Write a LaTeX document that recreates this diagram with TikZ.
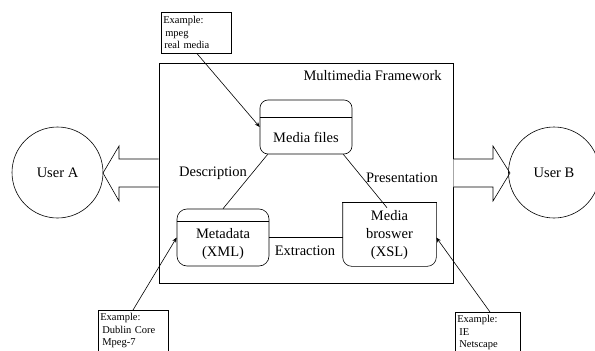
\documentclass[tikz,border=0pt]{standalone}
\usepackage{fontspec}
\setmainfont{Liberation Serif}
\usetikzlibrary{arrows.meta,calc}
\begin{document}
\begin{tikzpicture}[x=1pt,y=-1pt, line width=0.6pt,
  lbl/.style={font=\fontsize{14.5}{18}\selectfont, inner sep=0pt},
  exbox/.style={draw, anchor=north west, font=\fontsize{10.5}{12.5}\selectfont, align=left, text width=#1, inner xsep=2pt, inner ysep=0pt, minimum height=41pt},
  ptr/.style={-{Stealth[length=5pt,width=4pt]}},
  bigarrow/.style={draw, fill=white, line width=0.6pt}
  ]
\useasboundingbox (0,0) rectangle (595,351);
\clip (0,0) rectangle (595,351);

% framework
\node[draw, minimum width=294pt, minimum height=220pt, inner sep=0pt, line width=0.9pt] (fw) at (306,173) {};
\node[lbl, anchor=east] (fwl) at (442,76) {Multimedia Framework};

% big hollow arrows
\draw[bigarrow] (fw.west |- 0,159) -- (119,159) -- (119,146) -- (103,173) -- (119,201) -- (119,187) -- (fw.west |- 0,187);
\draw[bigarrow] (fw.east |- 0,159) -- (493,159) -- (493,146) -- (510,173) -- (493,201) -- (493,187) -- (fw.east |- 0,187);

% users
\node[draw, circle, minimum size=91pt, lbl] (ua) at (57.5,172.5) {User A};
\node[draw, circle, minimum size=91pt, lbl] (ub) at (554,172.5) {User B};

% media files
\node[draw, rounded corners=8pt, minimum width=92pt, minimum height=54pt, inner sep=0pt] (mf) at (306,127) {};
\draw ($(mf.north west)+(0,18)$) -- ($(mf.north east)+(0,18)$);
\node[lbl] (mft) at (306,137) {Media files};

% metadata
\node[draw, rounded corners=10pt, minimum width=92pt, minimum height=57pt, inner sep=0pt] (md) at (223,237.5) {};
\draw ($(md.north west)+(0,13)$) -- ($(md.north east)+(0,13)$);
\node[lbl, align=center] (mdt) at (223,244) {Metadata\\(XML)};

% media broswer
\node[minimum width=93pt, minimum height=63pt, inner sep=0pt] (mb) at (389.5,234.5) {};
\draw[rounded corners=9pt] (mb.north west) -- (mb.south west) -- (mb.south east) -- (mb.north east);
\draw[line cap=rect] (mb.north west) -- (mb.north east);
\node[lbl, align=center] (mbt) at (389.5,235) {Media\\broswer\\(XSL)};

% relations
\draw ($(mf.south west)+(8,0)$) -- (md.north);
\draw ($(mf.south east)+(-9,0)$) -- ($(mb.north)+(-2.5,5)$);
\draw (md.east) -- (md.east -| mb.west);
\node[lbl] (desc) at (213,173) {Description};
\node[lbl] (pres) at (402,178) {Presentation};
\node[lbl] (extr) at (305,251) {Extraction};

% example boxes
\node[exbox=66pt] (ex1) at (161,12) {Example:\\\hspace{2pt}mpeg\\\hspace{1pt}real media};
\node[exbox=66pt] (ex2) at (98,310) {Example:\\\hspace{2pt}Dublin Core\\\hspace{2pt}Mpeg-7};
\node[exbox=61pt] (ex3) at (455,312) {Example:\\\hspace{2pt}IE\\\hspace{2pt}Netscape};

\draw[ptr] ($(ex1.south west)+(36,0)$) -- (mf.west);
\draw[ptr] ($(ex2.north west)+(35,0)$) -- (md.west);
\draw[ptr] ($(ex3.north west)+(35,0)$) -- (mb.east |- md.east);
\end{tikzpicture}
\end{document}
